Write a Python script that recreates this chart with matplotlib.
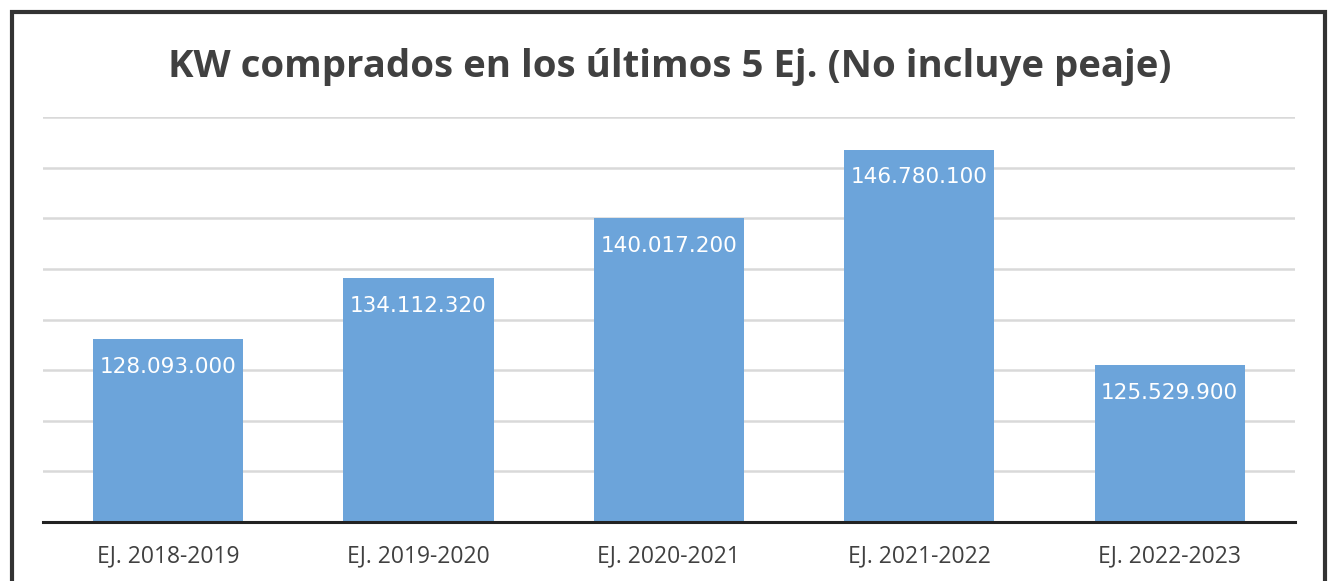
import matplotlib.pyplot as plt
from matplotlib.patches import Rectangle

# Data
periods = ['EJ. 2018-2019', 'EJ. 2019-2020', 'EJ. 2020-2021', 'EJ. 2021-2022', 'EJ. 2022-2023']
kw_values = [128093000, 134112320, 140017200, 146780100, 125529900]
value_labels = ['128.093.000', '134.112.320', '140.017.200', '146.780.100', '125.529.900']

fig = plt.figure(figsize=(13.28, 5.81), dpi=100)
ax = fig.add_axes([0.0324, 0.1015, 0.9426, 0.6971])

x = range(len(periods))
bars = ax.bar(x, kw_values, width=0.6, color='#6CA4DA', zorder=2)

# value labels inside the top of each bar
for bar, lab in zip(bars, value_labels):
    ax.annotate(lab, (bar.get_x() + bar.get_width() / 2, bar.get_height()),
                xytext=(0, -20), textcoords='offset points',
                ha='center', va='center', color='white', fontsize=15.5,
                family='DejaVu Sans')

ax.set_xlim(-0.5, 4.5)
ax.set_ylim(110000000, 150000000)
ax.set_yticks(range(110000000, 150000001, 5000000))
ax.set_yticklabels([])
ax.tick_params(axis='y', length=0)
ax.tick_params(axis='x', length=0, pad=16)
ax.set_xticks(list(x))
ax.set_xticklabels(periods, fontsize=16.5, color='#404040', family='Open Sans')
ax.grid(axis='y', color='#d9d9d9', linewidth=1.8, zorder=0)
for side in ['top', 'right', 'left']:
    ax.spines[side].set_visible(False)
ax.spines['bottom'].set_color('#222222')
ax.spines['bottom'].set_linewidth(2.2)
ax.spines['bottom'].set_zorder(3)

fig.text(0.5045, 0.884, 'KW comprados en los últimos 5 Ej. (No incluye peaje)',
         ha='center', va='center', fontsize=27.6, fontweight='bold',
         color='#404040', family='Open Sans')

# outer frame
fig.patches.append(Rectangle((11.5 / 1328, -0.05), (1325 - 11.5) / 1328, 1.05 - 11.5 / 581,
                             transform=fig.transFigure, fill=False,
                             edgecolor='#333333', linewidth=3))

fig.savefig('out.png', dpi=100)
